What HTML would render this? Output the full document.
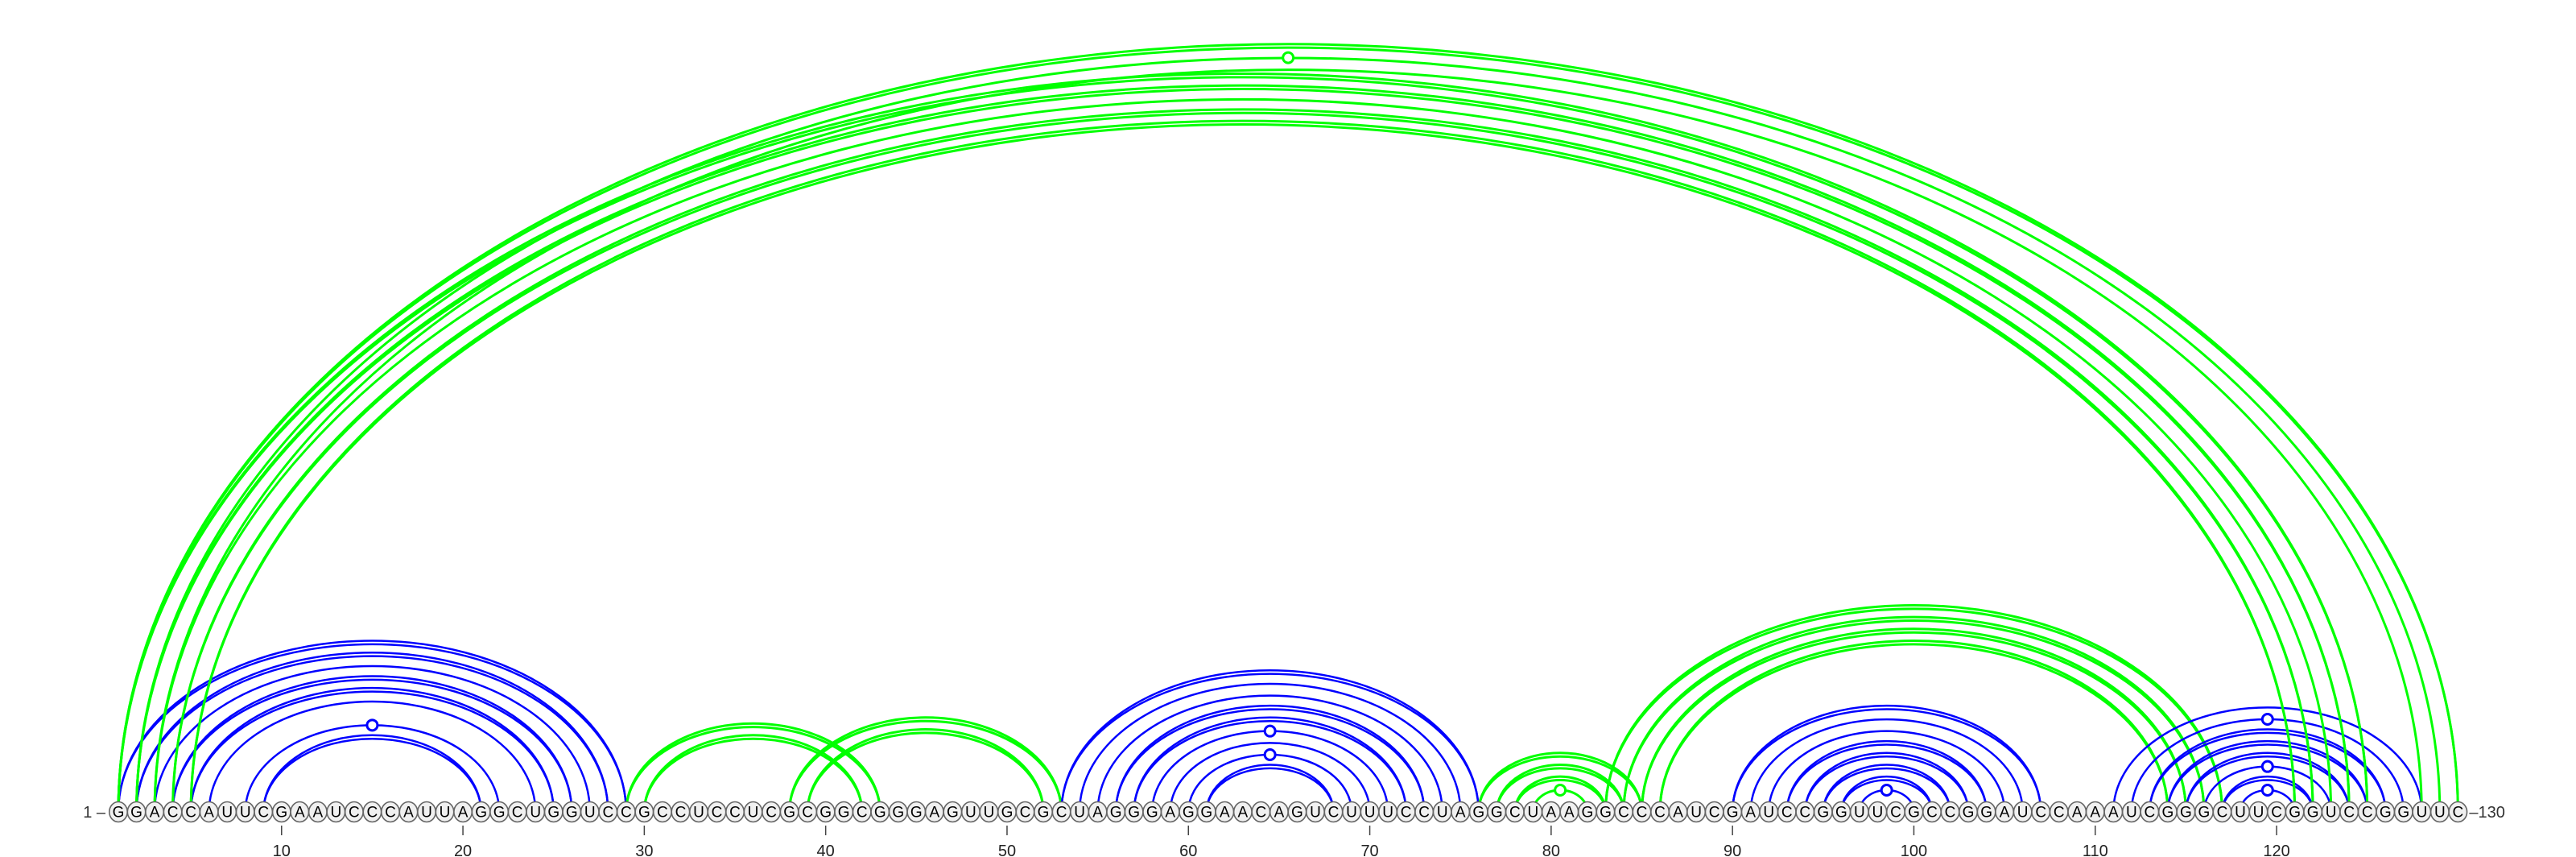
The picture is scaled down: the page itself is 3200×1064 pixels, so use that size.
<!DOCTYPE html>
<html><head><meta charset="utf-8"><style>
html,body{margin:0;padding:0;background:#fff;}
svg{display:block;font-family:"Liberation Sans",sans-serif;}
</style></head><body>
<svg id="chart" width="3200" height="1064" viewBox="0 0 3200 1064" xmlns="http://www.w3.org/2000/svg">
<g id="arcs"></g>
<g id="markers"></g>
<g id="nts"></g>
<g id="ticks"></g>
</svg>
<script>
const sequence = "GGACCAUUCGAAUCCCAUUAGGCUGGUCCGCCUCCUCGCGGCGGGAGUUGCGCUAGGGAGGAACAGUCUUUCCUAGGCUAAGGCCCAUCGAUCCGGUUCGCCGGAUCCAAAUCGGGCUUCGGUCCGGUUC";
const pairI = [1,2,3,4,5,6,8,9, 29,30,38,39, 53,54,55,56,57,58,59,60,61, 76,77,78,79, 83,84,85,86, 90,91,92,93,94,95,96,97, 111,112,113,114,115,116,117,118, 1,2,3,1,2,3,4,5];
const pairJ = [29,28,27,26,25,24,22,21, 43,42,53,52, 76,75,74,73,72,71,70,69,68, 85,84,83,82, 117,116,115,114, 107,106,105,104,103,102,101,100, 128,127,126,125,124,123,122,121, 130,129,128,125,124,123,122,121];
const pairColor = ["b","b","b","b","b","b","b","b", "g","g","g","g", "b","b","b","b","b","b","b","b","b", "g","g","g","g", "g","g","g","g", "b","b","b","b","b","b","b","b", "b","b","b","b","b","b","b","b", "g","g","g","g","g","g","g","g"];
const pairDouble = [1,1,0,1,1,0,0,1, 1,1,1,1, 1,0,0,1,1,0,0,0,1, 1,1,1,0, 1,1,1,1, 1,0,0,1,1,1,1,0, 0,0,1,1,1,0,1,0, 1,0,0,1,1,0,1,1];
const pairMarker = [0,0,0,0,0,0,1,0, 0,0,0,0, 0,0,0,0,0,1,0,1,0, 0,0,0,1, 0,0,0,0, 0,0,0,0,0,0,0,1, 0,1,0,0,0,1,0,1, 0,1,0,0,0,0,0,0];
const tickValues = [10,20,30,40,50,60,70,80,90,100,110,120];

const NS="http://www.w3.org/2000/svg";
const X0=147, DX=22.53, BASE=1008;
function xPos(k){return X0+(k-1)*DX;}
function arcH(a){return 0.651*a+5;}
const colors={b:"#0000ff",g:"#00ff00"};
const arcsG=document.getElementById('arcs'), mG=document.getElementById('markers'), nG=document.getElementById('nts'), tG=document.getElementById('ticks');
function mk(tag,attrs,parent){const e=document.createElementNS(NS,tag);for(const k in attrs)e.setAttribute(k,attrs[k]);parent.appendChild(e);return e;}

for(let p=0;p<pairI.length;p++){
  const x1=xPos(pairI[p]), x2=xPos(pairJ[p]), a=(x2-x1)/2, h=arcH(a);
  const col=colors[pairColor[p]], sw=pairColor[p]==="g"?3:2.5;
  const hs = pairDouble[p]? [h-2.2,h+2.2] : [h];
  hs.forEach(hh=>{
    const path=mk('path',{d:`M${x1},${BASE} A${a},${hh} 0 0 1 ${x2},${BASE}`,fill:"none",stroke:col,"stroke-width":sw},arcsG);
    
    
  });
  if(pairMarker[p]){
    const c=mk('circle',{cx:(x1+x2)/2,cy:BASE-h,r:6.5,fill:"#fff",stroke:col,"stroke-width":3},mG);
    
    
  }
}
for(let k=1;k<=sequence.length;k++){
  const x=xPos(k);
  const e=mk('ellipse',{cx:x,cy:BASE,rx:11.2,ry:12.5,fill:"#f0f0f0",stroke:"#666","stroke-width":1.6},nG);
  
  
  const t=mk('text',{x:x,y:BASE+6.5,"text-anchor":"middle","font-size":19,fill:"#000"},nG);
  t.textContent=sequence[k-1];
  
  
}
tickValues.forEach(v=>{
  const x=xPos(v);
  const l=mk('line',{x1:x,x2:x,y1:1025,y2:1037,stroke:"#444","stroke-width":1.5},tG);
  
  
  const t=mk('text',{x:x,y:1063,"text-anchor":"middle","font-size":20,fill:"#222"},tG);
  t.textContent=v;
  
  
});
const s=mk('text',{x:xPos(1)-16,y:BASE+7,"text-anchor":"end","font-size":20,fill:"#333"},tG);
s.textContent="1 \u2013";


const e=mk('text',{x:xPos(sequence.length)+14,y:BASE+7,"text-anchor":"start","font-size":20,fill:"#333"},tG);
e.textContent="\u2013130";


</script>
</body></html>
